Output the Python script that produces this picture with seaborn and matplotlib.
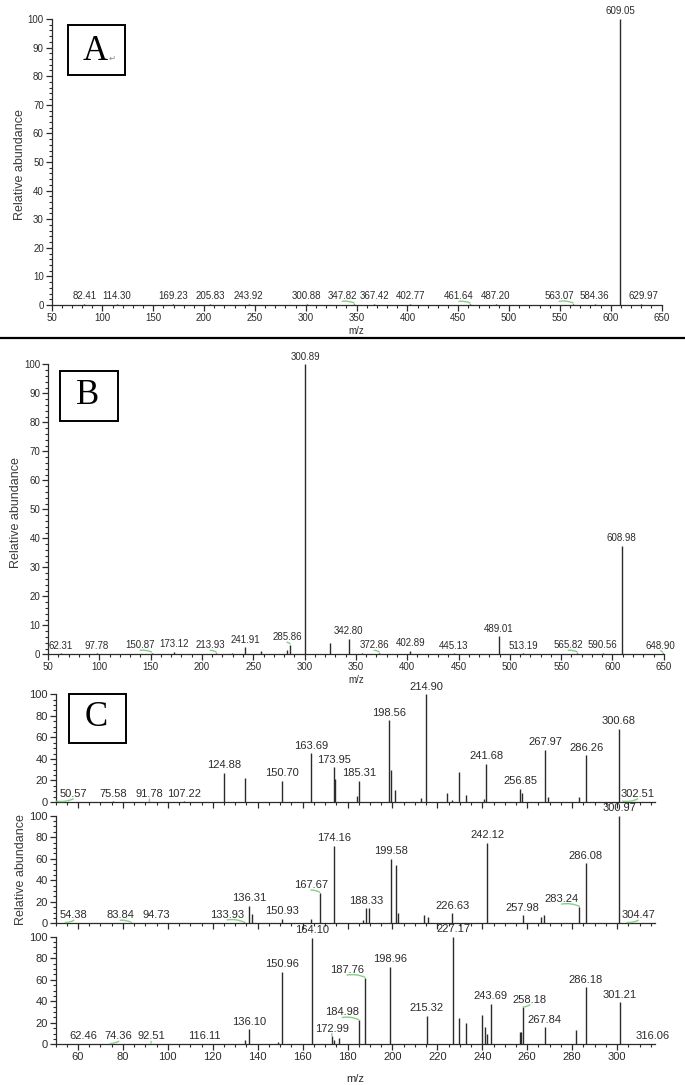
import matplotlib
matplotlib.use("Agg")
import matplotlib.pyplot as plt
import matplotlib.transforms as mtransforms
from matplotlib.ticker import MultipleLocator
from matplotlib.patches import Rectangle
from matplotlib.lines import Line2D
import seaborn as sns

# ---------------- data (m/z, relative abundance) ----------------
# panel A - labelled peaks
a_mz = [82.41, 114.30, 169.23, 205.83, 243.92, 300.88, 347.82, 367.42, 402.77,
        461.64, 487.20, 563.07, 584.36, 609.05, 629.97]
a_int = [0.4, 0.4, 0.4, 0.4, 0.4, 0.4, 0.4, 0.4, 0.4, 0.4, 0.4, 0.4, 0.4, 100, 0.4]

# panel B - labelled peaks
b_mz = [62.31, 97.78, 150.87, 173.12, 213.93, 241.91, 285.86, 300.89, 342.80,
        372.86, 402.89, 445.13, 489.01, 513.19, 565.82, 590.56, 608.98, 648.90]
b_int = [0.4, 0.4, 0.5, 0.8, 0.5, 2.4, 3.3, 100, 5.4, 0.5, 1.2, 0.4, 6.3, 0.4,
         0.5, 0.6, 37.5, 0.4]
# panel B - unlabelled peaks
b_mz_x = [229.0, 257.3, 283.0, 324.9, 356.0]
b_int_x = [0.4, 1.0, 1.5, 4.0, 0.5]

# panel C (three MS2 spectra) - labelled peaks
c1_mz = [50.57, 75.58, 91.78, 107.22, 124.88, 150.70, 163.69, 173.95, 185.31,
         198.56, 214.90, 241.68, 256.85, 267.97, 286.26, 300.68, 302.51]
c1_int = [0.5, 0.5, 0.5, 0.5, 27.2, 19.8, 45.2, 32.2, 19.8, 75.9, 100, 35.5,
          12.1, 48.5, 43.5, 68.0, 0.5]
c1_mz_x = [134.4, 174.6, 184.3, 199.2, 201.0, 212.6, 224.3, 226.4, 229.8, 232.8,
           240.8, 257.8, 269.1, 282.9]
c1_int_x = [22.0, 21.0, 5.9, 29.7, 11.1, 3.4, 8.7, 1.9, 27.9, 6.8, 2.5, 8.7,
            5.0, 4.3]

c2_mz = [54.38, 83.84, 94.73, 133.93, 136.31, 150.93, 167.67, 174.16, 188.33,
         199.58, 226.63, 242.12, 257.98, 283.24, 286.08, 300.97, 304.47]
c2_int = [0.5, 0.5, 0.5, 0.8, 16.4, 4.3, 28.5, 72.0, 13.9, 60.0, 9.3, 75.0,
          7.7, 15.5, 55.7, 100, 0.5]
c2_mz_x = [137.6, 163.6, 186.7, 189.4, 201.4, 202.3, 213.9, 216.0, 266.3, 267.3]
c2_int_x = [8.4, 3.7, 3.0, 13.9, 54.2, 9.3, 7.7, 6.2, 5.6, 7.7]

c3_mz = [62.46, 74.36, 92.51, 116.11, 136.10, 150.96, 164.10, 172.99, 184.98,
         187.76, 198.96, 215.32, 227.17, 243.69, 258.18, 267.84, 286.18, 301.21,
         316.06]
c3_int = [0.5, 0.5, 0.5, 0.5, 14.2, 67.5, 99.0, 7.7, 22.6, 62.0, 72.0, 26.6,
          100, 37.5, 34.4, 15.8, 53.0, 39.0, 0.5]
c3_mz_x = [134.4, 148.9, 174.0, 176.2, 229.6, 232.9, 239.9, 241.0, 242.0, 256.7,
           257.3, 281.9]
c3_int_x = [4.0, 2.5, 4.0, 6.2, 24.8, 20.0, 27.0, 16.4, 9.3, 11.1, 11.1, 13.3]

# label displacements (m/z units) for labels drawn away from their peak
a_shift = {347.82: -12, 461.64: -11, 563.07: -14, 629.97: 2}
b_shift = {150.87: -11, 213.93: -6, 285.86: -3, 372.86: -5, 565.82: -9, 648.90: -2}
c1_shift = {50.57: 7.3, 302.51: 6.7}
c2_shift = {54.38: 3.8, 83.84: -5, 133.93: -7.5, 167.67: -4, 283.24: -8, 304.47: 5}
c3_shift = {74.36: 3.8, 184.98: -7.3, 187.76: -8, 258.18: 3}
green_marks = {
    "A": [347.82, 461.64, 563.07],
    "B": [150.87, 213.93, 285.86, 372.86, 565.82, 648.90],
    "C1": [50.57, 91.78, 302.51],
    "C2": [54.38, 83.84, 133.93, 167.67, 283.24, 304.47],
    "C3": [74.36, 92.51, 172.99, 184.98, 187.76, 258.18],
}

# ---------------- style ----------------
sns.set_theme(style="ticks")
plt.rcParams["font.family"] = ["Liberation Sans", "DejaVu Sans"]
plt.rcParams["axes.linewidth"] = 0.9
ink = "#2b2b2b"
green = "#86cf86"

W, H = 685, 1085
fig = plt.figure(figsize=(W / 100, H / 100), dpi=100)


def add_ax(l, r, t, b):
    # pixel box -> figure axes
    return fig.add_axes([l / W, 1 - b / H, (r - l) / W, (b - t) / H])


def spectrum(ax, mz, inten, mz_x, int_x, shift, greens, xlim, xstep, xminor,
             ystep, yminor, fs, xlabels=True):
    ax.vlines(mz, 0, inten, color=ink, lw=1.0)
    if mz_x:
        ax.vlines(mz_x, 0, int_x, color=ink, lw=1.0)
    ax.set_xlim(*xlim)
    ax.set_ylim(0, 100)
    sns.despine(ax=ax)
    for s in ["left", "bottom"]:
        ax.spines[s].set_color(ink)
    ax.xaxis.set_major_locator(MultipleLocator(xstep))
    ax.xaxis.set_minor_locator(MultipleLocator(xminor))
    ax.yaxis.set_major_locator(MultipleLocator(ystep))
    ax.yaxis.set_minor_locator(MultipleLocator(yminor))
    ax.tick_params(which="major", direction="out", length=4, width=0.9,
                   color=ink, labelsize=fs, labelcolor=ink, pad=1.5)
    ax.tick_params(which="minor", direction="out", length=2.2, width=0.8, color=ink)
    if not xlabels:
        ax.tick_params(axis="x", labelbottom=False)
    ax.set_facecolor("white")
    tr = mtransforms.offset_copy(ax.transData, fig=fig, x=0, y=1.8, units="points")
    for m, h in zip(mz, inten):
        lx = m + shift.get(m, 0)
        ax.annotate(f"{m:.2f}", xy=(m, h), xycoords="data", xytext=(lx, h),
                    textcoords=tr, ha="center", va="bottom", fontsize=fs,
                    color=ink, annotation_clip=False)
        if m in greens:
            ax.annotate("", xy=(m, h + 0.3), xycoords="data", xytext=(lx, h),
                        textcoords=tr,
                        arrowprops=dict(arrowstyle="-", color=green, lw=1.0,
                                        shrinkA=0, shrinkB=0,
                                        connectionstyle="arc3,rad=-0.15"))


ylab_kw = dict(fontsize=9, color="#3a3a3a")

# ---------------- panel A ----------------
axA = add_ax(51.5, 661.6, 19, 305)
spectrum(axA, a_mz, a_int, [], [], a_shift, green_marks["A"], (50, 650), 50, 10,
         10, 2, 7)
axA.set_xlabel("m/z", fontsize=7, color=ink)
axA.xaxis.set_label_coords(0.5, -0.075)
axA.set_ylabel("Relative abundance", **ylab_kw)
axA.yaxis.set_label_coords(-0.042, 0.49)

# ---------------- panel B ----------------
axB = add_ax(48, 663.8, 364.3, 654.3)
spectrum(axB, b_mz, b_int, b_mz_x, b_int_x, b_shift, green_marks["B"], (50, 650),
         50, 10, 10, 2, 7)
axB.set_xlabel("m/z", fontsize=7, color=ink)
axB.xaxis.set_label_coords(0.5, -0.07)
axB.set_ylabel("Relative abundance", **ylab_kw)
axB.yaxis.set_label_coords(-0.042, 0.49)

# ---------------- panel C ----------------
c_xlim = (50, 316.9)
axC1 = add_ax(55.5, 655, 694.3, 802)
axC2 = add_ax(55.5, 655, 815.7, 923.3)
axC3 = add_ax(55.5, 655, 936.7, 1044.3)
spectrum(axC1, c1_mz, c1_int, c1_mz_x, c1_int_x, c1_shift, green_marks["C1"],
         c_xlim, 20, 5, 20, 5, 8, xlabels=False)
spectrum(axC2, c2_mz, c2_int, c2_mz_x, c2_int_x, c2_shift, green_marks["C2"],
         c_xlim, 20, 5, 20, 5, 8, xlabels=False)
spectrum(axC3, c3_mz, c3_int, c3_mz_x, c3_int_x, c3_shift, green_marks["C3"],
         c_xlim, 20, 5, 20, 5, 8)
axC3.set_xlabel("m/z", fontsize=8, color=ink)
axC3.xaxis.set_label_coords(0.5, -0.28)
axC2.set_ylabel("Relative abundance", **ylab_kw)
axC2.yaxis.set_label_coords(-0.048, 0.5)

# ---------------- panel letters ----------------
for (l, r, t, b), (cx, cy), letter in [((68, 125, 25, 75), (95, 51), "A"),
                                         ((60, 118, 371, 421), (88, 396), "B"),
                                         ((69, 126, 694, 743), (96, 718), "C")]:
    fig.add_artist(Rectangle((l / W, 1 - b / H), (r - l) / W, (b - t) / H,
                             transform=fig.transFigure, fill=True, facecolor="white",
                             edgecolor="black", lw=1.4, zorder=5))
    fig.text(cx / W, 1 - cy / H, letter, ha="center", va="center", fontsize=25,
             family=["Liberation Serif", "DejaVu Serif"], color="black", zorder=6)
fig.text(112 / W, 1 - 58 / H, "\u21b5", ha="center", va="center", fontsize=6,
         color="#888888", family=["DejaVu Sans"], zorder=6)

# separator line between A and B
fig.add_artist(Line2D([0, 1], [1 - 338 / H, 1 - 338 / H], transform=fig.transFigure,
                      color="black", lw=1.6))

fig.savefig("out.png", dpi=100, facecolor="white")
